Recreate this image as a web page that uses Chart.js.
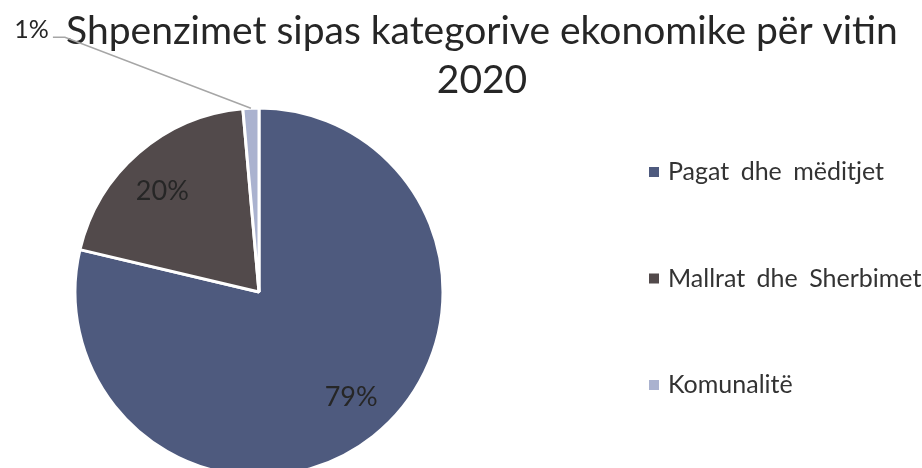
<!DOCTYPE html>
<html><head><meta charset="utf-8">
<script src="https://cdn.jsdelivr.net/npm/chart.js@4"></script>
<style>html,body{margin:0;padding:0;background:#fff;overflow:hidden}</style>
</head><body>
<canvas id="c" width="922" height="468"></canvas>
<script>
const titleLines = ['Shpenzimet sipas kategorive ekonomike për vitin', '2020'];
const categories = ['Pagat dhe mëditjet', 'Mallrat dhe Sherbimet', 'Komunalitë'];
const shares = [78.7, 19.9, 1.4];
const colors = ['#4e5a7e', '#524a4b', '#aab2cf'];

const pctText = (v, all) => Math.round(v / all.reduce((a, b) => a + b, 0) * 100) + '%';

const overlay = {
  id: 'overlay',
  afterDraw(chart) {
    const ctx = chart.ctx;
    const data = chart.data.datasets[0].data;
    const meta = chart.getDatasetMeta(0);
    ctx.save();
    // title
    ctx.fillStyle = '#262626';
    ctx.font = '400 39px Lato';
    ctx.textAlign = 'center';
    ctx.textBaseline = 'alphabetic';
    ctx.fillText(titleLines[0], 482, 44);
    ctx.fillText(titleLines[1], 482, 93);
    // data labels
    ctx.font = '27px Lato';
    meta.data.forEach((arc, i) => {
      const p = arc.getProps(['x', 'y', 'startAngle', 'endAngle', 'outerRadius'], true);
      const mid = (p.startAngle + p.endAngle) / 2;
      const txt = pctText(data[i], data);
      if (data[i] / data.reduce((a, b) => a + b, 0) > 0.05) {
        ctx.textAlign = 'center';
        ctx.textBaseline = 'middle';
        ctx.fillStyle = '#262626';
        const r = p.outerRadius * 0.76;
        const a = mid - 0.05;
        ctx.fillText(txt, p.x + Math.cos(a) * r, p.y + Math.sin(a) * r);
      } else {
        const x0 = p.x + Math.cos(mid) * p.outerRadius;
        const y0 = p.y + Math.sin(mid) * p.outerRadius;
        const ex = x0 - 186, ey = y0 - 71;
        ctx.strokeStyle = '#a6a6a6';
        ctx.lineWidth = 1.5;
        ctx.beginPath();
        ctx.moveTo(x0, y0);
        ctx.lineTo(ex, ey);
        ctx.lineTo(ex - 12, ey);
        ctx.stroke();
        ctx.fillStyle = '#262626';
        ctx.textAlign = 'right';
        ctx.textBaseline = 'alphabetic';
        ctx.font = '25px Lato';
        ctx.fillText(txt, ex - 16, ey + 1);
      }
    });
    // legend
    ctx.font = '25px Lato';
    ctx.textAlign = 'left';
    ctx.textBaseline = 'middle';
    try { ctx.wordSpacing = '5px'; } catch (e) {}
    chart.data.labels.forEach((lab, i) => {
      const cy = 172 + i * 106.5;
      ctx.fillStyle = chart.data.datasets[0].backgroundColor[i];
      ctx.fillRect(649, cy - 5, 10, 10);
      ctx.fillStyle = '#333333';
      ctx.fillText(lab, 668, cy);
    });
    ctx.restore();
  }
};

new Chart(document.getElementById('c'), {
  type: 'pie',
  data: {
    labels: categories,
    datasets: [{
      data: shares,
      backgroundColor: colors,
      borderColor: '#ffffff',
      borderWidth: 3,
      radius: 184
    }]
  },
  options: {
    responsive: false,
    animation: false,
    layout: { padding: { left: 77, right: 481, top: 116, bottom: 0 } },
    plugins: { legend: { display: false }, title: { display: false }, tooltip: { enabled: false } }
  },
  plugins: [overlay]
});
</script>
</body></html>
